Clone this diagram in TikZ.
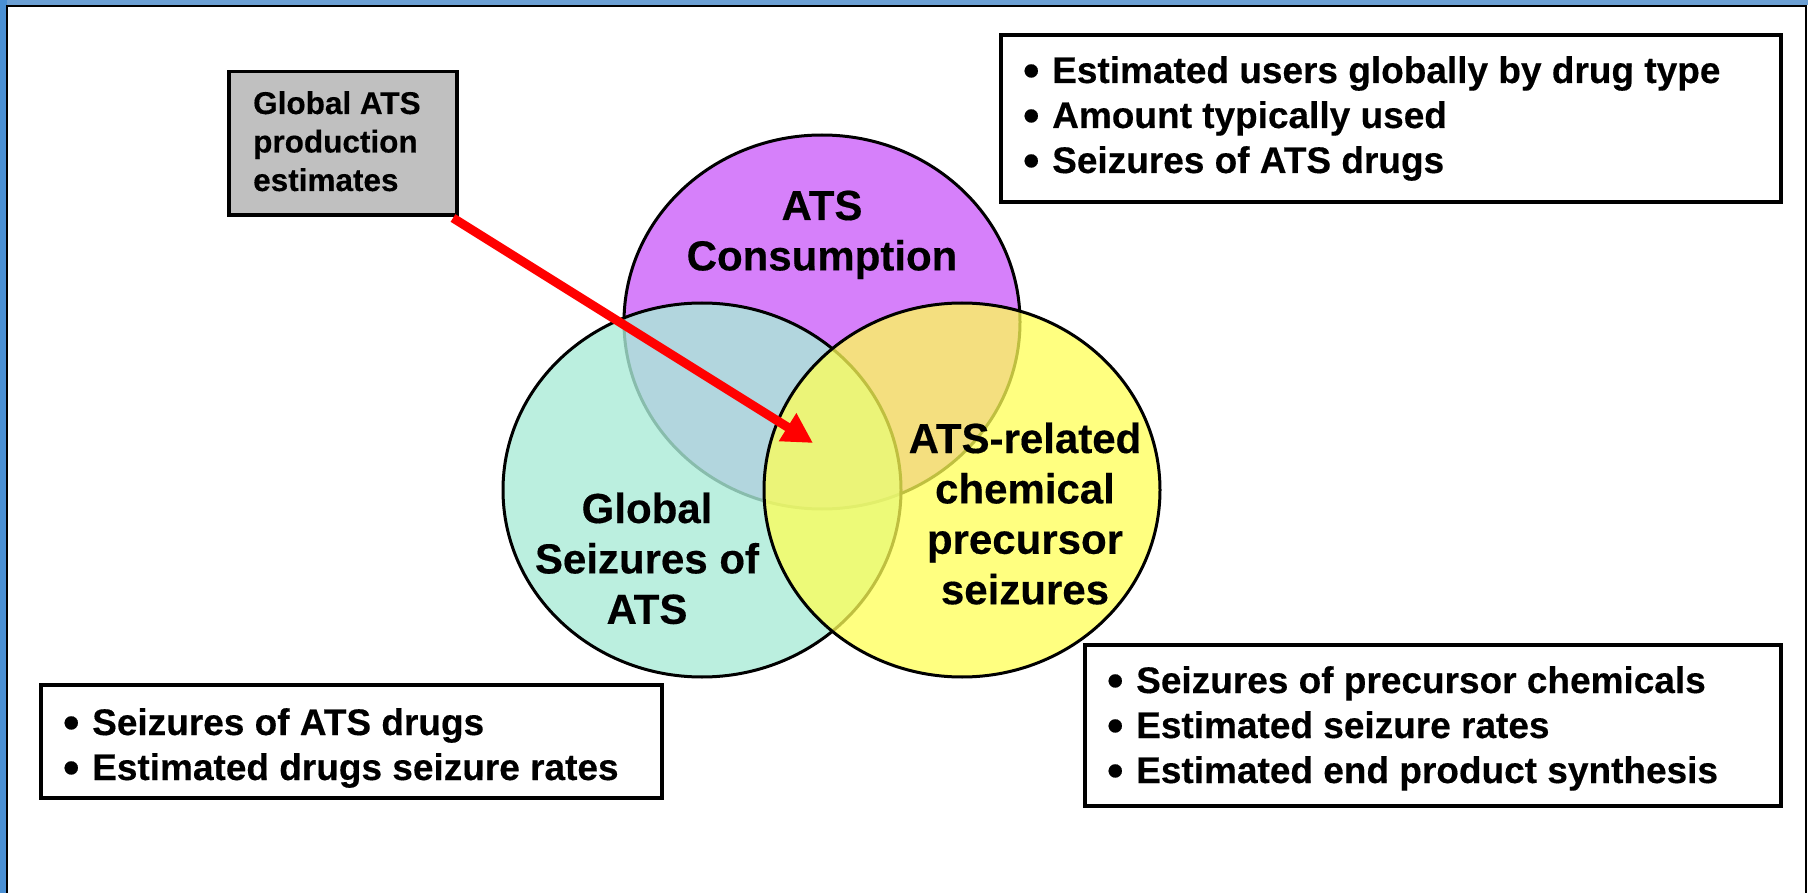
\documentclass[tikz,border=0pt]{standalone}
\usepackage{fontspec}
\setmainfont{Liberation Sans}[BoldFeatures={FakeBold=0.35}]
\usetikzlibrary{arrows.meta}
\definecolor{frameblueT}{RGB}{108,160,212}
\definecolor{frameblueL}{RGB}{74,144,212}
\definecolor{cpurple}{RGB}{214,128,250}
\definecolor{cteal}{RGB}{170,236,216}
\definecolor{cyellow}{RGB}{255,255,86}
\definecolor{cgray}{RGB}{192,192,192}
\newcommand{\blt}{\makebox[29pt][l]{\raisebox{-3.2pt}{\scalebox{1.25}{•}}}}
\begin{document}
\begin{tikzpicture}[x=1pt,y=-1pt,
  vennring/.style={draw=black, line width=3pt},
  circlelabel/.style={inner sep=0pt, anchor=base, font=\fontsize{42}{50.4}\selectfont\bfseries},
  listbox/.style={draw=black, line width=3.8pt, fill=white, anchor=north west, inner sep=0pt, outer sep=0pt},
  listtext/.style={inner sep=0pt, anchor=base west, font=\fontsize{37}{45}\selectfont\bfseries},
  graybox/.style={draw=black, line width=3.8pt, fill=cgray, anchor=north west, inner sep=0pt, outer sep=0pt},
  graytext/.style={inner sep=0pt, anchor=base west, font=\fontsize{31.5}{38.5}\selectfont\bfseries},
  redarrow/.style={draw=red, line width=9pt, -{Triangle[length=30pt,width=31pt]}}
]
\useasboundingbox (0,0) rectangle (1808,893);
\clip (0,0) rectangle (1808,893);
% frame
\fill[white] (0,0) rectangle (1808,893);
\fill[frameblueT] (0,0) rectangle (1808,5.5);
\fill[frameblueL] (0,0) rectangle (6.5,893);
\draw[black, line width=2.2pt] (7.3,900) -- (7.3,5.8) -- (1806.3,5.8) -- (1806.3,900);

% Venn circles
\path[vennring, fill=cpurple] (822,322) ellipse [x radius=198, y radius=187];
\path[vennring, fill=cteal, fill opacity=0.8] (702,490) ellipse [x radius=199, y radius=187];
\path[vennring, fill=cyellow, fill opacity=0.75] (962,490) ellipse [x radius=198, y radius=187];

% circle labels
\node[circlelabel] (lcons) at (822,220) {\begin{tabular}[t]{@{}c@{}}ATS\\Consumption\end{tabular}};
\node[circlelabel] (lglob) at (647,523) {\begin{tabular}[t]{@{}c@{}}Global\\Seizures of\\ATS\end{tabular}};
\node[circlelabel] (lprec) at (1025,453) {\begin{tabular}[t]{@{}c@{}}ATS-related\\chemical\\precursor\\seizures\end{tabular}};

% gray box
\node[graybox, minimum width=228pt, minimum height=143.5pt] (gbox) at (229,71.5) {};
\node[graytext] (gtext) at (253,114) {\begin{tabular}[t]{@{}l@{}}Global ATS\\production\\estimates\end{tabular}};

% list boxes
\node[listbox, minimum width=780pt, minimum height=167pt] (trbox) at (1001,35) {};
\node[listtext] (trtext) at (1023,83) {\begin{tabular}[t]{@{}l@{}}\blt Estimated users globally by drug type\\\blt Amount typically used\\\blt Seizures of ATS drugs\end{tabular}};

\node[listbox, minimum width=696pt, minimum height=161pt] (brbox) at (1085,645) {};
\node[listtext] (brtext) at (1107,693) {\begin{tabular}[t]{@{}l@{}}\blt Seizures of precursor chemicals\\\blt Estimated seizure rates\\\blt Estimated end product synthesis\end{tabular}};

\node[listbox, minimum width=621pt, minimum height=113pt] (blbox) at (41,685) {};
\node[listtext] (bltext) at (63,735) {\begin{tabular}[t]{@{}l@{}}\blt Seizures of ATS drugs\\\blt Estimated drugs seizure rates\end{tabular}};

% red arrow
\coordinate (tip) at (813,443);
\draw[redarrow] ([shift={(-4,3)}]gbox.south east) -- (tip);
\end{tikzpicture}
\end{document}
